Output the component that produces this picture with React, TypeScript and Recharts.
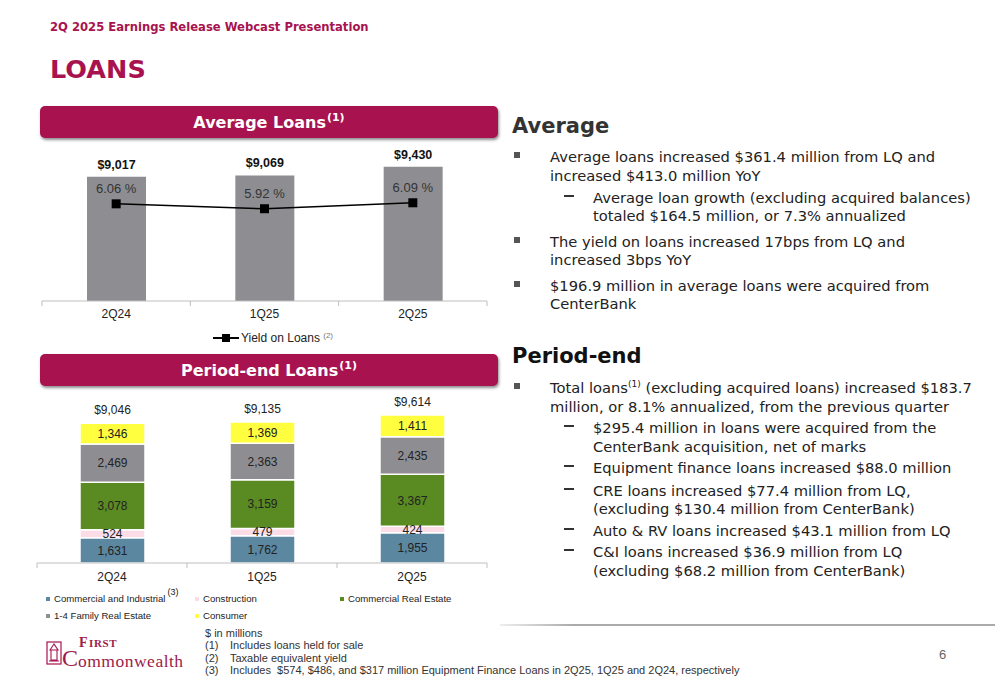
import React from 'react'
import { ComposedChart, BarChart, Bar, Line, XAxis, YAxis, LabelList, Legend } from 'recharts'

const quarters = ['2Q24', '1Q25', '2Q25']

// Average loans ($ millions) and yield (%)
const avgLoans = [9017, 9069, 9430]
const loanYield = [6.06, 5.92, 6.09]

// Period-end loans by type ($ millions)
const commercialIndustrial = [1631, 1762, 1955]
const construction = [524, 479, 424]
const commercialRealEstate = [3078, 3159, 3367]
const familyRealEstate = [2469, 2363, 2435]
const consumer = [1346, 1369, 1411]
const periodEndTotals = [9046, 9135, 9614]

const CRIMSON = '#A8134F'
const LOGO = '#9D1B4A'
const CHART_FONT = 'Liberation Sans'

const SERIES = [
  { key: 'ci', name: 'Commercial and Industrial', color: '#5B87A0' },
  { key: 'construction', name: 'Construction', color: '#FBDCE7' },
  { key: 'cre', name: 'Commercial Real Estate', color: '#5A8A22' },
  { key: 'family', name: '1-4 Family Real Estate', color: '#8E8E92' },
  { key: 'consumer', name: 'Consumer', color: '#FFFF3F' },
]

const avgData = quarters.map((q, i) => ({
  quarter: q,
  loans: avgLoans[i],
  yield: loanYield[i],
}))

const periodData = quarters.map((q, i) => ({
  quarter: q,
  ci: commercialIndustrial[i],
  construction: construction[i],
  cre: commercialRealEstate[i],
  family: familyRealEstate[i],
  consumer: consumer[i],
  total: periodEndTotals[i],
}))

const fmt = (v: number) => v.toLocaleString('en-US')

function QuarterTick(props: any) {
  const { x, y, payload, index, half, labelDy } = props
  return (
    <g>
      {index === 0 && <line x1={x - half} y1={y} x2={x - half} y2={y + 5} stroke="#bfbfbf" />}
      <line x1={x + half} y1={y} x2={x + half} y2={y + 5} stroke="#bfbfbf" />
      <text
        x={x}
        y={y + labelDy}
        textAnchor="middle"
        dominantBaseline="central"
        fontSize={12}
        fill="#222"
        fontFamily={CHART_FONT}
      >
        {payload.value}
      </text>
    </g>
  )
}

function SquareDot(props: any) {
  const { cx, cy, index } = props
  return <rect key={`dot-${index}`} x={cx - 4.5} y={cy - 4.5} width={9} height={9} fill="#000" />
}

function YieldLegend() {
  return (
    <div
      style={{
        height: 20,
        paddingBottom: 6,
        boxSizing: 'border-box',
        display: 'flex',
        alignItems: 'center',
        justifyContent: 'center',
        paddingLeft: 17,
        fontSize: 12,
        fontFamily: CHART_FONT,
        color: '#222',
      }}
    >
      <svg width={26} height={10}>
        <line x1={0} y1={5} x2={26} y2={5} stroke="#000" strokeWidth={2} />
        <rect x={9} y={1} width={8} height={8} fill="#000" />
      </svg>
      <span style={{ marginLeft: 2 }}>
        Yield on Loans <span style={{ fontSize: 8, color: '#777', verticalAlign: 4 }}>(2)</span>
      </span>
    </div>
  )
}

function TypeLegend() {
  const item = (s: (typeof SERIES)[number], sup?: string) => (
    <div key={s.key} style={{ display: 'flex', alignItems: 'center', height: 17 }}>
      <span style={{ width: 4, height: 4, background: s.color, marginRight: 4 }} />
      <span>{s.name}</span>
      {sup && <span style={{ fontSize: 9, position: 'relative', top: -7, marginLeft: 2 }}>{sup}</span>}
    </div>
  )
  return (
    <div
      style={{
        height: 40,
        boxSizing: 'border-box',
        paddingTop: 2,
        paddingLeft: 9,
        display: 'grid',
        gridTemplateColumns: '149px 145px 150px',
        gridAutoRows: '17px',
        fontSize: 9.6,
        fontFamily: CHART_FONT,
        color: '#222',
      }}
    >
      {item(SERIES[0], '(3)')}
      {item(SERIES[1])}
      {item(SERIES[2])}
      {item(SERIES[3])}
      {item(SERIES[4])}
    </div>
  )
}

function Banner({ top, title }: { top: number; title: string }) {
  return (
    <div
      style={{
        position: 'absolute',
        left: 40,
        top,
        width: 458,
        height: 32,
        background: CRIMSON,
        borderRadius: 5,
        boxShadow: '1px 2px 3px rgba(0,0,0,0.45)',
        color: '#fff',
        fontWeight: 'bold',
        fontSize: 16,
        display: 'flex',
        alignItems: 'center',
        justifyContent: 'center',
      }}
    >
      {title}
      <span style={{ fontSize: 11, position: 'relative', top: -5, marginLeft: 1 }}>(1)</span>
    </div>
  )
}

type TextRow = { y: number; kind: 'bullet' | 'dash' | 'cont' | 'subcont'; text: React.ReactNode }

const averageRows: TextRow[] = [
  { y: 157, kind: 'bullet', text: 'Average loans increased $361.4 million from LQ and' },
  { y: 176, kind: 'cont', text: 'increased $413.0 million YoY' },
  { y: 198, kind: 'dash', text: 'Average loan growth (excluding acquired balances)' },
  { y: 216, kind: 'subcont', text: 'totaled $164.5 million, or 7.3% annualized' },
  { y: 242, kind: 'bullet', text: 'The yield on loans increased 17bps from LQ and' },
  { y: 260, kind: 'cont', text: 'increased 3bps YoY' },
  { y: 286, kind: 'bullet', text: '$196.9 million in average loans were acquired from' },
  { y: 304, kind: 'cont', text: 'CenterBank' },
]

const periodRows: TextRow[] = [
  {
    y: 388,
    kind: 'bullet',
    text: (
      <>
        Total loans<span style={{ fontSize: 9, position: 'relative', top: -6 }}>(1)</span> (excluding acquired loans) increased $183.7
      </>
    ),
  },
  { y: 407, kind: 'cont', text: 'million, or 8.1% annualized, from the previous quarter' },
  { y: 428, kind: 'dash', text: '$295.4 million in loans were acquired from the' },
  { y: 447, kind: 'subcont', text: 'CenterBank acquisition, net of marks' },
  { y: 468, kind: 'dash', text: 'Equipment finance loans increased $88.0 million' },
  { y: 491, kind: 'dash', text: 'CRE loans increased $77.4 million from LQ,' },
  { y: 509, kind: 'subcont', text: '(excluding $130.4 million from CenterBank)' },
  { y: 531, kind: 'dash', text: 'Auto & RV loans increased $43.1 million from LQ' },
  { y: 552, kind: 'dash', text: 'C&I loans increased $36.9 million from LQ' },
  { y: 571, kind: 'subcont', text: '(excluding $68.2 million from CenterBank)' },
]

function Rows({ rows }: { rows: TextRow[] }) {
  return (
    <>
      {rows.map((r, i) => {
        const left = r.kind === 'bullet' || r.kind === 'cont' ? 550 : 593
        return (
          <React.Fragment key={i}>
            {r.kind === 'bullet' && (
              <div style={{ position: 'absolute', left: 514, top: r.y - 5, width: 6, height: 6, background: '#555' }} />
            )}
            {r.kind === 'dash' && (
              <div style={{ position: 'absolute', left: 564, top: r.y - 3, width: 10, height: 1.5, background: '#333' }} />
            )}
            <div
              style={{
                position: 'absolute',
                left,
                top: r.y - 9,
                height: 18,
                lineHeight: '18px',
                fontSize: 14.7,
                color: '#222',
                whiteSpace: 'nowrap',
              }}
            >
              {r.text}
            </div>
          </React.Fragment>
        )
      })}
    </>
  )
}

// logo word pieces, placed by baseline (Liberation Serif)
function LogoText({ left, baseline, size, bold, spacing, children }: any) {
  return (
    <div
      style={{
        position: 'absolute',
        left,
        top: baseline - 0.912 * size,
        fontFamily: 'Liberation Serif',
        fontSize: size,
        fontWeight: bold ? 'bold' : 'normal',
        letterSpacing: spacing ?? 0,
        color: LOGO,
        whiteSpace: 'nowrap',
      }}
    >
      {children}
    </div>
  )
}

export default function App() {
  return (
    <div
      style={{
        position: 'absolute',
        left: 0,
        top: 0,
        width: 1000,
        height: 685,
        background: '#fff',
        overflow: 'hidden',
        fontFamily: 'DejaVu Sans',
      }}
    >
      <div style={{ position: 'absolute', left: 50, top: 20, fontSize: 11.6, fontWeight: 'bold', color: CRIMSON }}>
        2Q 2025 Earnings Release Webcast Presentation
      </div>
      <div style={{ position: 'absolute', left: 50, top: 54, fontSize: 25.5, fontWeight: 'bold', color: CRIMSON }}>LOANS</div>

      <Banner top={106} title="Average Loans" />
      <Banner top={354} title="Period-end Loans" />

      <div style={{ position: 'absolute', left: 30, top: 140 }}>
        <ComposedChart width={470} height={220} data={avgData} margin={{ top: 10, right: 13, bottom: 9, left: 12 }}>
          <XAxis
            dataKey="quarter"
            axisLine={{ stroke: '#bfbfbf' }}
            tickLine={false}
            tickSize={0}
            tickMargin={0}
            height={30}
            interval={0}
            tick={<QuarterTick half={445 / 6} labelDy={13} />}
          />
          <YAxis yAxisId="loans" hide domain={[3880, 10120]} allowDataOverflow />
          <YAxis yAxisId="yield" hide orientation="right" domain={[3.28, 7.6]} allowDataOverflow />
          <Bar yAxisId="loans" dataKey="loans" fill="#8E8E92" barSize={59} isAnimationActive={false}>
            <LabelList
              dataKey="loans"
              position="top"
              offset={8}
              formatter={(v: any) => '$' + fmt(Number(v))}
              fill="#111"
              fontSize={12.5}
              fontWeight="bold"
              fontFamily={CHART_FONT}
            />
          </Bar>
          <Line
            yAxisId="yield"
            dataKey="yield"
            stroke="#000"
            strokeWidth={1.5}
            dot={SquareDot}
            activeDot={false}
            isAnimationActive={false}
          >
            <LabelList
              dataKey="yield"
              position="top"
              offset={11}
              formatter={(v: any) => Number(v).toFixed(2) + ' %'}
              fill="#333"
              fontSize={13}
              fontFamily={CHART_FONT}
            />
          </Line>
          <Legend verticalAlign="bottom" height={20} content={() => <YieldLegend />} />
        </ComposedChart>
      </div>

      <div style={{ position: 'absolute', left: 30, top: 390 }}>
        <BarChart width={470} height={240} data={periodData} margin={{ top: 10, right: 13, bottom: 2, left: 7 }}>
          <XAxis
            dataKey="quarter"
            axisLine={{ stroke: '#bfbfbf' }}
            tickLine={false}
            tickSize={0}
            tickMargin={0}
            height={25}
            interval={0}
            tick={<QuarterTick half={75} labelDy={14} />}
          />
          <YAxis hide domain={[0, 10560]} allowDataOverflow />
          {SERIES.map((s, i) => (
            <Bar
              key={s.key}
              dataKey={s.key}
              name={s.name}
              stackId="loans"
              fill={s.color}
              stroke="#fff"
              strokeWidth={1.5}
              barSize={65}
              isAnimationActive={false}
            >
              <LabelList
                dataKey={s.key}
                position="center"
                formatter={(v: any) => fmt(Number(v))}
                fill="#222"
                fontSize={12}
                fontFamily={CHART_FONT}
              />
              {i === SERIES.length - 1 && (
                <LabelList
                  dataKey="total"
                  position="top"
                  offset={9}
                  formatter={(v: any) => '$' + fmt(Number(v))}
                  fill="#222"
                  fontSize={12}
                  fontFamily={CHART_FONT}
                />
              )}
            </Bar>
          ))}
          <Legend verticalAlign="bottom" align="left" height={40} content={() => <TypeLegend />} />
        </BarChart>
      </div>

      <div style={{ position: 'absolute', left: 512, top: 114, fontSize: 21, fontWeight: 'bold', color: '#333' }}>Average</div>
      <Rows rows={averageRows} />
      <div style={{ position: 'absolute', left: 512, top: 344, fontSize: 21, fontWeight: 'bold', color: '#111' }}>Period-end</div>
      <Rows rows={periodRows} />

      <div
        style={{
          position: 'absolute',
          left: 500,
          top: 624,
          width: 495,
          height: 1.5,
          background: 'linear-gradient(to right, rgba(170,170,170,0.2), #aaa 15%, #aaa)',
        }}
      />

      {/* logo */}
      <svg style={{ position: 'absolute', left: 46, top: 641 }} width={16} height={24}>
        <rect x={1} y={1} width={14} height={22} fill="none" stroke={CRIMSON} strokeWidth={1.2} />
        <path d="M4 9 L8 3 L12 9 Z M5 9 h6 v10 h-6 Z M3 20 h10" fill="none" stroke={CRIMSON} strokeWidth={1.1} />
      </svg>
      <LogoText left={79} baseline={647.5} size={14} bold>F</LogoText>
      <LogoText left={89} baseline={647.5} size={11} bold spacing={0.6}>IRST</LogoText>
      <LogoText left={62} baseline={667} size={24}>C</LogoText>
      <LogoText left={78} baseline={667} size={17.5} spacing={0.5}>ommonwealth</LogoText>

      <div style={{ position: 'absolute', left: 205, top: 627, fontFamily: CHART_FONT, fontSize: 11, color: '#333', lineHeight: '12.4px' }}>
        <div>$ in millions</div>
        <div><span style={{ display: 'inline-block', width: 25 }}>(1)</span>Includes loans held for sale</div>
        <div><span style={{ display: 'inline-block', width: 25 }}>(2)</span>Taxable equivalent yield</div>
        <div>
          <span style={{ display: 'inline-block', width: 25 }}>(3)</span>Includes&nbsp; $574, $486, and $317 million Equipment Finance Loans in 2Q25, 1Q25 and 2Q24, respectively
        </div>
      </div>
      <div style={{ position: 'absolute', left: 939, top: 647, fontFamily: CHART_FONT, fontSize: 13, color: '#666' }}>6</div>
    </div>
  )
}
